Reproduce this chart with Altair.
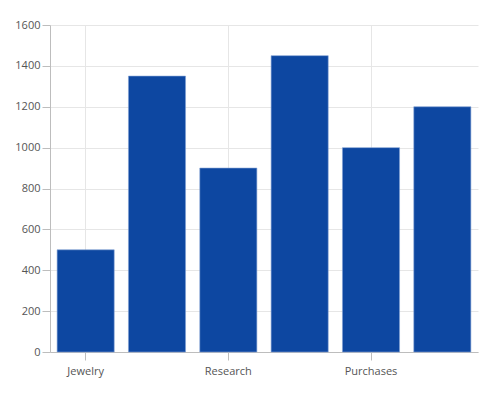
import altair as alt
import pandas as pd

categories = ["Jewelry", "Electronics", "Research", "Marketing", "Purchases", "Sales"]
values = [500, 1350, 900, 1450, 1000, 1200]
shown_labels = ["Jewelry", "Research", "Purchases"]
y_ticks = [0, 200, 400, 600, 800, 1000, 1200, 1400, 1600]

df = pd.DataFrame({"category": categories, "value": values})

font = "Open Sans"

chart = alt.Chart(df).mark_bar(
    color="#0D47A1", stroke="#7f9fd4", strokeWidth=0.6
).encode(
    x=alt.X(
        "category:N",
        sort=categories,
        scale=alt.Scale(paddingInner=0.2, paddingOuter=0.1),
        axis=alt.Axis(
            title=None, values=shown_labels, labelAngle=0, grid=True,
            gridColor="#e6e6e6", domainColor="#bdbdbd", tickColor="#bdbdbd",
            tickSize=8, labelPadding=5, labelFont=font, labelFontSize=11,
            labelColor="#555555", labelOverlap=False,
        ),
    ),
    y=alt.Y(
        "value:Q",
        scale=alt.Scale(domain=[0, 1600], nice=False),
        axis=alt.Axis(
            title=None, values=y_ticks, format="d", grid=True, gridColor="#e6e6e6",
            domainColor="#bdbdbd", tickColor="#bdbdbd", tickSize=8,
            labelPadding=2, labelFont=font, labelFontSize=11,
            labelColor="#555555",
        ),
    ),
).properties(
    width=428, height=327,
    autosize=alt.AutoSizeParams(type="none"),
    padding={"left": 50, "top": 25, "right": 22, "bottom": 42},
).configure_view(strokeWidth=0)

chart.save("out.html", embed_options={"renderer": "svg", "actions": False})
